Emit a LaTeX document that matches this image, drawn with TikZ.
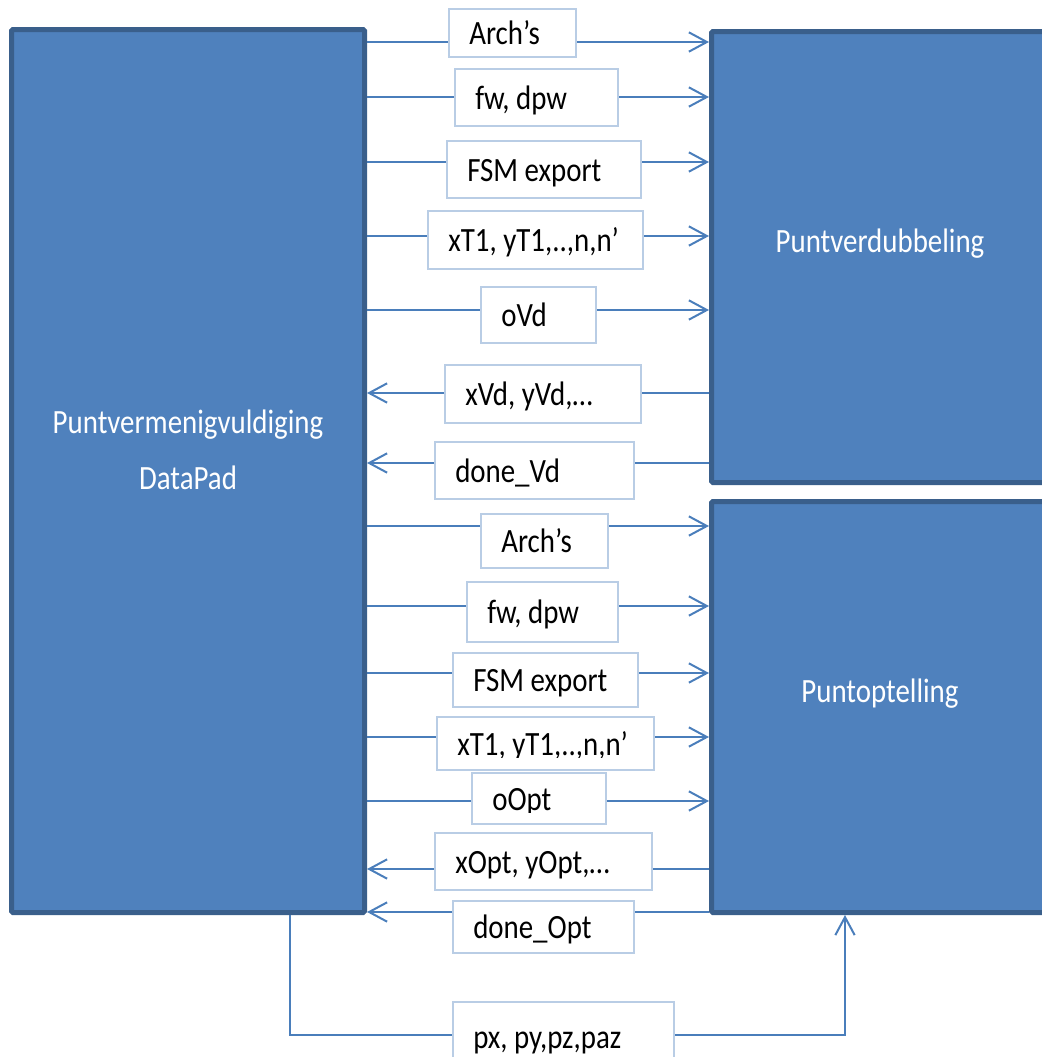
\documentclass[tikz,border=0pt]{standalone}
\usepackage{fontspec}
\setmainfont{Carlito}[FakeStretch=0.85]
\usetikzlibrary{arrows.meta}

\definecolor{boxfill}{HTML}{4F81BD}
\definecolor{boxedge}{HTML}{3A5F8B}
\definecolor{wireblue}{HTML}{4A7EBB}
\definecolor{tagedge}{HTML}{B9CDE5}

\tikzset{
  block/.style={draw=boxedge, fill=boxfill, line width=3.75pt, rounded corners=1pt, inner sep=0pt},
  blocktext/.style={text=white, font=\fontsize{25.5}{30}\selectfont, text height=16.4pt, text depth=0pt, inner sep=0pt},
  tagbox/.style={draw=tagedge, fill=white, line width=1.5pt, inner sep=0pt},
  tagtext/.style={font=\fontsize{25.5}{30}\selectfont, text height=16.4pt, text depth=0pt, inner sep=0pt, anchor=west},
  wire/.style={draw=wireblue, line width=1.5pt},
  feed/.style={wire, -{Straight Barb[length=13.5pt, width=14.5pt]}},
}

% signal label: name, x1, y1, x2, y2, text
\newcommand\sigbox[6]{%
  \node[tagbox, minimum width={(#4-#2)*0.75pt}, minimum height={(#5-#3)*0.75pt}] (#1) at ({(#2+#4)/2},{(#3+#5)/2}) {};
  \node[tagtext] (#1t) at ({#2+20},{(#3+#5)/2+1}) {#6};
}
% same, with the text cut off at height #7
\newcommand\sigboxcut[7]{%
  \node[tagbox, minimum width={(#4-#2)*0.75pt}, minimum height={(#5-#3)*0.75pt}] (#1) at ({(#2+#4)/2},{(#3+#5)/2}) {};
  \begin{scope}
    \clip (#2,#3) rectangle (#4,#7);
    \node[tagtext] (#1t) at ({#2+20},{(#3+#5)/2+1}) {#6};
  \end{scope}
}

\begin{document}
\begin{tikzpicture}[x=0.75pt, y=-0.75pt]
\useasboundingbox (0,0) rectangle (1042,1057);
\clip (0,0) rectangle (1042,1057);

% main blocks
\node[block, minimum width={353*0.75pt}, minimum height={883*0.75pt}] (L) at (188,471) {};
\node[blocktext] (Lt1) at (188,423) {Puntvermenigvuldiging};
\node[blocktext] (Lt2) at (188,479) {DataPad};

\node[block, minimum width={338.5*0.75pt}, minimum height={451*0.75pt}] (R1) at (880.75,257) {};
\node[blocktext] (R1t) at (880,242) {Puntverdubbeling};

\node[block, minimum width={338.5*0.75pt}, minimum height={411*0.75pt}] (R2) at (880.75,707) {};
\node[blocktext] (R2t) at (880,692) {Puntoptelling};

% signal rows
\coordinate (y1) at (0,42);
\coordinate (y2) at (0,97);
\coordinate (y3) at (0,162);
\coordinate (y4) at (0,236);
\coordinate (y5) at (0,310);
\coordinate (y6) at (0,393);
\coordinate (y7) at (0,463);
\coordinate (y8) at (0,526);
\coordinate (y9) at (0,606);
\coordinate (y10) at (0,673);
\coordinate (y11) at (0,737);
\coordinate (y12) at (0,801);
\coordinate (y13) at (0,869);
\coordinate (y14) at (0,912);

\sigboxcut{s1}{449}{9}{576}{57}{Arch’s}{47}
\sigbox{s2}{455}{69}{618}{126}{fw, dpw}
\sigbox{s3}{447}{141}{641}{198}{FSM export}
\sigbox{s4}{428}{211}{643}{269}{xT1, yT1,..,n,n’}
\sigbox{s5}{481}{287}{596}{343}{oVd}
\sigbox{s6}{445}{365}{641}{423}{xVd, yVd,…}
\sigbox{s7}{435}{442}{634}{499}{done\_Vd}
\sigbox{s8}{481}{514}{608}{568}{Arch’s}
\sigbox{s9}{467}{582}{618}{642}{fw, dpw}
\sigbox{s10}{453}{653}{638}{707}{FSM export}
\sigboxcut{s11}{437}{717}{654}{770}{xT1, yT1,..,n,n’}{757}
\sigboxcut{s12}{472}{773}{606}{824}{oOpt}{812}
\sigbox{s13}{435}{833}{652}{890}{xOpt, yOpt,…}
\sigbox{s14}{453}{901}{634}{953}{done\_Opt}
\sigbox{s15}{453}{1002}{674}{1072}{px, py,pz,paz}

% towards Puntverdubbeling
\foreach \k in {1,...,5} {
  \draw[wire] (L.east |- y\k) -- (s\k.west |- y\k);
  \draw[feed] (s\k.east |- y\k) -- (R1.west |- y\k);
}
% back from Puntverdubbeling
\foreach \k in {6,7} {
  \draw[wire] (R1.west |- y\k) -- (s\k.east |- y\k);
  \draw[feed] (s\k.west |- y\k) -- (L.east |- y\k);
}
% towards Puntoptelling
\foreach \k in {8,...,12} {
  \draw[wire] (L.east |- y\k) -- (s\k.west |- y\k);
  \draw[feed] (s\k.east |- y\k) -- (R2.west |- y\k);
}
% back from Puntoptelling
\foreach \k in {13,14} {
  \draw[wire] (R2.west |- y\k) -- (s\k.east |- y\k);
  \draw[feed] (s\k.west |- y\k) -- (L.east |- y\k);
}

% point coordinates routed below
\coordinate (b1) at (290,1035);
\coordinate (b2) at (845,1035);
\draw[wire] (L.south -| b1) -- (b1) -- (s15.west |- b1);
\draw[feed] (s15.east |- b2) -- (b2) -- (R2.south -| b2);
\end{tikzpicture}
\end{document}
